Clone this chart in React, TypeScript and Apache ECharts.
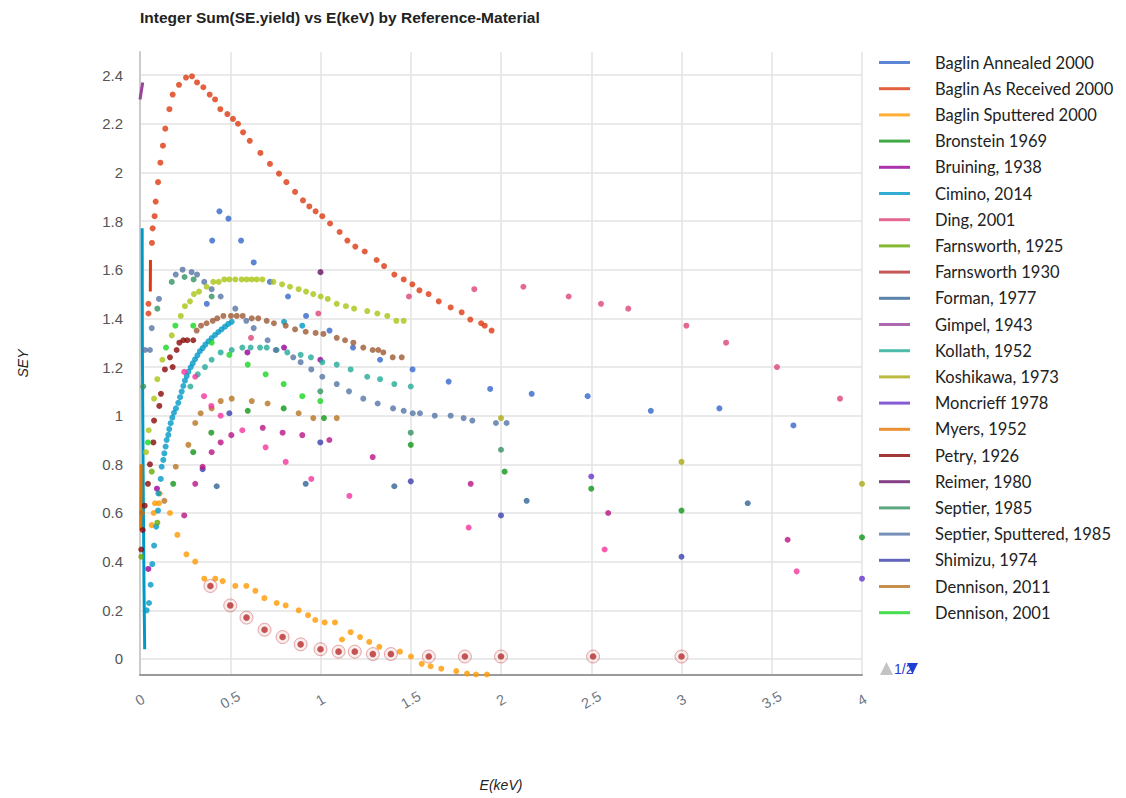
import { useEffect, useRef } from "react";
import * as echarts from "echarts";

type Pt = [number, number];

// E (keV), SEY pairs per reference
const baglinAnnealed: Pt[] = [
  [0.37, 1.46], [0.4, 1.72], [0.44, 1.84], [0.49, 1.81], [0.56, 1.72], [0.63, 1.63],
  [0.72, 1.55], [0.82, 1.49], [0.92, 1.41], [1.05, 1.35], [1.18, 1.28], [1.33, 1.23],
  [1.51, 1.19], [1.71, 1.14], [1.94, 1.11], [2.17, 1.09], [2.48, 1.08], [2.83, 1.02],
  [3.21, 1.03], [3.62, 0.96],
];
const baglinAsReceived: Pt[] = [
  [0.047, 1.42], [0.047, 1.46], [0.066, 1.71], [0.07, 1.77], [0.081, 1.82], [0.087, 1.88],
  [0.1, 1.96], [0.113, 2.04], [0.127, 2.11], [0.14, 2.18], [0.163, 2.26], [0.181, 2.32],
  [0.216, 2.36], [0.255, 2.39], [0.288, 2.395], [0.316, 2.37], [0.351, 2.35], [0.386, 2.32],
  [0.416, 2.3], [0.445, 2.26], [0.484, 2.24], [0.515, 2.22], [0.543, 2.2], [0.571, 2.165],
  [0.608, 2.13], [0.667, 2.08], [0.72, 2.035], [0.77, 1.995], [0.811, 1.96], [0.859, 1.92],
  [0.903, 1.885], [0.938, 1.86], [0.973, 1.84], [1.01, 1.82], [1.053, 1.79], [1.106, 1.755],
  [1.149, 1.72], [1.193, 1.695], [1.245, 1.675], [1.311, 1.64], [1.352, 1.615], [1.409, 1.58],
  [1.461, 1.56], [1.509, 1.54], [1.548, 1.515], [1.599, 1.5], [1.655, 1.47], [1.721, 1.445],
  [1.782, 1.425], [1.83, 1.395], [1.89, 1.38], [1.91, 1.37], [1.948, 1.35],
];
const baglinAsReceivedLow: Pt[] = [[0.057, 1.51], [0.058, 1.64]];
const baglinSputtered: Pt[] = [
  [0.065, 0.55], [0.076, 0.6], [0.083, 0.64], [0.105, 0.64], [0.109, 0.68], [0.166, 0.6],
  [0.207, 0.51], [0.257, 0.43], [0.306, 0.4], [0.356, 0.33], [0.417, 0.33], [0.458, 0.32],
  [0.528, 0.3], [0.589, 0.3], [0.639, 0.28], [0.689, 0.25], [0.757, 0.23], [0.807, 0.22],
  [0.879, 0.2], [0.931, 0.18], [0.971, 0.16], [1.023, 0.15], [1.08, 0.15], [1.119, 0.08],
  [1.167, 0.11], [1.219, 0.09], [1.27, 0.07], [1.326, 0.05], [1.44, 0.03], [1.501, 0.01],
  [1.561, -0.02], [1.61, -0.03], [1.669, -0.04], [1.752, -0.05], [1.812, -0.06],
  [1.861, -0.064], [1.922, -0.064],
];
const bronstein: Pt[] = [
  [0.184, 0.72], [0.295, 0.85], [0.395, 0.93], [0.597, 1.02], [0.796, 1.03], [1.019, 0.99],
  [1.5, 0.88], [2.02, 0.77], [2.5, 0.7], [3.0, 0.61], [4.0, 0.5],
];
const bruining: Pt[] = [[0.046, 0.37], [0.094, 0.7], [0.595, 1.26], [0.798, 1.28], [0.999, 1.23]];
const cimino: Pt[] = [
  [0.037, 0.2], [0.05, 0.23], [0.059, 0.305], [0.068, 0.39], [0.078, 0.466], [0.09, 0.544],
  [0.1, 0.61], [0.102, 0.68], [0.115, 0.74], [0.12, 0.79], [0.129, 0.818], [0.135, 0.845],
  [0.142, 0.873], [0.148, 0.9], [0.157, 0.921], [0.162, 0.945], [0.17, 0.969], [0.179, 0.992],
  [0.188, 1.012], [0.199, 1.03], [0.212, 1.053], [0.222, 1.076], [0.231, 1.099], [0.24, 1.122],
  [0.249, 1.144], [0.259, 1.163], [0.268, 1.181], [0.281, 1.199], [0.292, 1.215], [0.305, 1.232],
  [0.318, 1.248], [0.332, 1.265], [0.347, 1.278], [0.362, 1.292], [0.379, 1.306], [0.397, 1.319],
  [0.416, 1.332], [0.434, 1.344], [0.452, 1.355], [0.471, 1.366], [0.489, 1.377], [0.508, 1.386],
  [0.798, 1.386], [0.899, 1.37],
];
const ciminoLow: Pt[] = [[0.026, 0.04], [0.022, 0.3], [0.017, 0.8], [0.013, 1.3], [0.012, 1.77]];
const ding: Pt[] = [
  [0.615, 1.32], [0.988, 1.42], [1.49, 1.49], [1.852, 1.52], [2.124, 1.53], [2.375, 1.49],
  [2.554, 1.46], [2.705, 1.44], [3.027, 1.37], [3.247, 1.3], [3.529, 1.2], [3.878, 1.07],
];
const farnsworth1925: Pt[] = [[0.007, 0.42], [0.065, 0.77], [0.096, 0.56]];
const farnsworth1930: Pt[] = [
  [0.39, 0.3], [0.5, 0.22], [0.59, 0.17], [0.69, 0.12], [0.79, 0.09], [0.89, 0.06],
  [1.0, 0.04], [1.1, 0.03], [1.19, 0.03], [1.29, 0.02], [1.39, 0.02], [1.6, 0.01],
  [1.8, 0.01], [2.0, 0.01], [2.51, 0.01], [3.0, 0.01],
];
const forman: Pt[] = [[0.425, 0.71], [0.918, 0.72], [1.409, 0.71], [2.142, 0.65], [3.367, 0.64]];
const gimpelLow: Pt[] = [[0.0, 2.3], [0.015, 2.37]];
const kollath: Pt[] = [
  [0.279, 1.12], [0.32, 1.17], [0.36, 1.2], [0.397, 1.23], [0.447, 1.26], [0.508, 1.27],
  [0.567, 1.28], [0.613, 1.28], [0.665, 1.28], [0.702, 1.28], [0.757, 1.27], [0.816, 1.26],
  [0.89, 1.25], [0.947, 1.24], [1.01, 1.22], [1.09, 1.21], [1.167, 1.19], [1.259, 1.16],
  [1.33, 1.15], [1.409, 1.13], [1.5, 1.12],
];
const koshikawa: Pt[] = [[2.0, 0.99], [3.0, 0.81], [4.0, 0.72]];
const moncrieff: Pt[] = [[2.5, 0.75], [4.0, 0.33]];
const myersLow: Pt[] = [[0.004, 0.53], [0.006, 0.8]];
const petry: Pt[] = [
  [0.007, 0.45], [0.015, 0.53], [0.026, 0.63], [0.044, 0.72], [0.055, 0.8], [0.074, 0.89],
  [0.078, 0.98], [0.107, 1.04], [0.116, 1.09], [0.138, 1.19], [0.166, 1.24], [0.181, 1.2],
  [0.203, 1.27], [0.218, 1.3], [0.24, 1.31], [0.262, 1.31], [0.295, 1.31],
];
const reimer: Pt[] = [[1.0, 1.59]];
const septier: Pt[] = [
  [0.018, 1.12], [0.096, 1.44], [0.176, 1.55], [0.247, 1.57], [0.297, 1.56], [0.397, 1.49],
  [0.999, 1.1], [1.5, 0.93], [2.0, 0.86],
];
const septierSputtered: Pt[] = [
  [0.028, 1.27], [0.055, 1.27], [0.065, 1.36], [0.105, 1.48], [0.198, 1.58], [0.236, 1.6],
  [0.286, 1.59], [0.316, 1.58], [0.356, 1.55], [0.397, 1.52], [0.447, 1.49], [0.528, 1.44],
  [0.589, 1.39], [0.63, 1.36], [0.707, 1.31], [0.752, 1.27], [0.849, 1.24], [0.89, 1.22],
  [0.949, 1.19], [1.01, 1.16], [1.09, 1.13], [1.158, 1.1], [1.237, 1.07], [1.317, 1.05],
  [1.402, 1.03], [1.461, 1.02], [1.511, 1.01], [1.551, 1.01], [1.633, 1.0], [1.721, 1.0],
  [1.793, 0.99], [1.841, 0.98], [1.972, 0.97], [2.031, 0.97],
];
const shimizu: Pt[] = [[0.347, 0.78], [0.495, 1.01], [0.999, 0.89], [1.5, 0.73], [2.0, 0.59], [3.0, 0.42]];
const dennison2011: Pt[] = [
  [0.011, 0.6], [0.135, 0.65], [0.198, 0.79], [0.268, 0.88], [0.306, 0.97], [0.336, 1.01],
  [0.397, 1.03], [0.447, 1.06], [0.508, 1.07], [0.619, 1.06], [0.707, 1.05], [0.879, 1.01],
  [0.96, 0.99], [1.09, 0.99],
];
const dennison2001: Pt[] = [
  [0.044, 0.89], [0.144, 1.28], [0.196, 1.37], [0.295, 1.37], [0.397, 1.3], [0.495, 1.25],
  [0.597, 1.21], [0.696, 1.17], [0.796, 1.13], [0.899, 1.08], [0.999, 1.06],
];
const reference23: Pt[] = [
  [0.245, 0.59], [0.306, 0.72], [0.347, 0.79], [0.397, 0.85], [0.447, 0.89], [0.506, 0.92],
  [0.68, 0.95], [0.79, 0.93], [0.899, 0.92], [1.049, 0.9], [1.289, 0.83], [1.832, 0.72],
  [2.594, 0.6], [3.588, 0.49],
];
const reference24: Pt[] = [
  [0.245, 1.18], [0.306, 1.16], [0.355, 1.08], [0.395, 1.04], [0.447, 1.0], [0.567, 0.94],
  [0.696, 0.87], [0.807, 0.81], [0.949, 0.74], [1.16, 0.67], [1.821, 0.54], [2.574, 0.45],
  [3.638, 0.36],
];
const reference25: Pt[] = [
  [0.314, 1.35], [0.338, 1.37], [0.369, 1.38], [0.403, 1.39], [0.428, 1.4], [0.462, 1.41],
  [0.504, 1.41], [0.536, 1.41], [0.569, 1.41], [0.619, 1.4], [0.655, 1.4], [0.702, 1.39],
  [0.742, 1.38], [0.807, 1.37], [0.859, 1.355], [0.918, 1.345], [0.973, 1.34], [1.016, 1.336],
  [1.09, 1.32], [1.136, 1.31], [1.182, 1.3], [1.237, 1.28], [1.289, 1.27], [1.32, 1.27],
  [1.348, 1.26], [1.4, 1.24], [1.45, 1.24],
];
const reference26: Pt[] = [
  [0.033, 0.85], [0.048, 0.94], [0.078, 1.07], [0.096, 1.15], [0.124, 1.23], [0.176, 1.33],
  [0.226, 1.41], [0.249, 1.45], [0.277, 1.47], [0.299, 1.5], [0.327, 1.51], [0.369, 1.53],
  [0.406, 1.55], [0.436, 1.55], [0.467, 1.56], [0.495, 1.56], [0.528, 1.56], [0.563, 1.56],
  [0.591, 1.56], [0.619, 1.56], [0.647, 1.56], [0.678, 1.56], [0.739, 1.55], [0.787, 1.54],
  [0.831, 1.53], [0.879, 1.52], [0.92, 1.51], [0.96, 1.5], [1.001, 1.49], [1.04, 1.48],
  [1.09, 1.46], [1.141, 1.45], [1.186, 1.44], [1.259, 1.43], [1.315, 1.42], [1.37, 1.41],
  [1.42, 1.39], [1.461, 1.39],
];

const xTicks = [0, 0.5, 1, 1.5, 2, 2.5, 3, 3.5, 4];
const yTicks = [0, 0.2, 0.4, 0.6, 0.8, 1, 1.2, 1.4, 1.6, 1.8, 2, 2.2, 2.4];
const legendPageText = "1/2";

interface Ref {
  name: string;
  color: string;
  points: Pt[];
  trace?: Pt[];
  ringed?: boolean;
  firstPage: boolean;
}

const REFS: Ref[] = [
  { name: "Baglin Annealed 2000", color: "#3366cc", points: baglinAnnealed, firstPage: true },
  { name: "Baglin As Received 2000", color: "#dc3912", points: baglinAsReceived, trace: baglinAsReceivedLow, firstPage: true },
  { name: "Baglin Sputtered 2000", color: "#ff9900", points: baglinSputtered, firstPage: true },
  { name: "Bronstein 1969", color: "#109618", points: bronstein, firstPage: true },
  { name: "Bruining, 1938", color: "#990099", points: bruining, firstPage: true },
  { name: "Cimino, 2014", color: "#0099c6", points: cimino, trace: ciminoLow, firstPage: true },
  { name: "Ding, 2001", color: "#dd4477", points: ding, firstPage: true },
  { name: "Farnsworth, 1925", color: "#66aa00", points: farnsworth1925, firstPage: true },
  { name: "Farnsworth 1930", color: "#b82e2e", points: farnsworth1930, ringed: true, firstPage: true },
  { name: "Forman, 1977", color: "#316395", points: forman, firstPage: true },
  { name: "Gimpel, 1943", color: "#994499", points: [], trace: gimpelLow, firstPage: true },
  { name: "Kollath, 1952", color: "#22aa99", points: kollath, firstPage: true },
  { name: "Koshikawa, 1973", color: "#aaaa11", points: koshikawa, firstPage: true },
  { name: "Moncrieff 1978", color: "#6633cc", points: moncrieff, firstPage: true },
  { name: "Myers, 1952", color: "#e67300", points: [], trace: myersLow, firstPage: true },
  { name: "Petry, 1926", color: "#8b0707", points: petry, firstPage: true },
  { name: "Reimer, 1980", color: "#651067", points: reimer, firstPage: true },
  { name: "Septier, 1985", color: "#329262", points: septier, firstPage: true },
  { name: "Septier, Sputtered, 1985", color: "#5574a6", points: septierSputtered, firstPage: true },
  { name: "Shimizu, 1974", color: "#3b3eac", points: shimizu, firstPage: true },
  { name: "Dennison, 2011", color: "#b77322", points: dennison2011, firstPage: true },
  { name: "Dennison, 2001", color: "#16d620", points: dennison2001, firstPage: true },
  { name: "Reference 23", color: "#b91383", points: reference23, firstPage: false },
  { name: "Reference 24", color: "#f4359e", points: reference24, firstPage: false },
  { name: "Reference 25", color: "#9c5935", points: reference25, firstPage: false },
  { name: "Reference 26", color: "#a9c413", points: reference26, firstPage: false },
];

function buildSeries(): any[] {
  const out: any[] = [];
  REFS.forEach((r) => {
    if (r.ringed) {
      // filled dot first so the legend picks up its colour, halo ring below it
      out.push({
        type: "scatter",
        name: r.name,
        data: r.points,
        symbolSize: 8,
        itemStyle: { color: r.color, borderColor: "#ffffff", borderWidth: 1.5 },
        z: 4,
      });
      out.push({
        type: "scatter",
        name: r.name,
        data: r.points,
        symbolSize: 13,
        itemStyle: { color: "rgba(184,46,46,0.14)", borderColor: "rgba(200,70,70,0.55)", borderWidth: 1 },
        z: 3,
      });
    } else {
      out.push({
        type: "scatter",
        name: r.name,
        data: r.points,
        symbolSize: 6,
        itemStyle: { color: r.color },
        z: 2,
      });
    }
    if (r.trace) {
      out.push({
        type: "line",
        name: r.name,
        data: r.trace,
        symbol: "none",
        showSymbol: false,
        lineStyle: { color: r.color, width: 3 },
        itemStyle: { color: r.color },
        z: 2,
      });
    }
  });
  return out;
}

export default function App() {
  const ref = useRef<HTMLDivElement>(null);

  useEffect(() => {
    if (!ref.current) return;
    const chart = echarts.init(ref.current, null, { renderer: "svg" });
    chart.setOption({
      animation: false,
      backgroundColor: "#ffffff",
      textStyle: { fontFamily: "Liberation Sans, Arial, sans-serif" },
      title: {
        text: "Integer Sum(SE.yield) vs E(keV) by Reference-Material",
        left: 140,
        top: 9,
        padding: 0,
        textStyle: { fontSize: 15.5, fontWeight: "bold", color: "#222222", fontFamily: "Liberation Sans, Arial, sans-serif" },
      },
      grid: { left: 140, right: 264, top: 52, bottom: 123, containLabel: false, outerBoundsMode: "none" },
      xAxis: [
        {
          type: "value",
          min: 0,
          max: 4,
          interval: 0.5,
          name: "E(keV)",
          nameLocation: "middle",
          nameGap: 103,
          nameTextStyle: { fontStyle: "italic", fontSize: 14, color: "#222222" },
          axisLine: { show: false },
          axisTick: { show: false },
          splitLine: { show: true, lineStyle: { color: "#e3e3e3", width: 1.5 } },
          axisLabel: {
            rotate: 30,
            align: "center",
            verticalAlign: "middle",
            margin: 25,
            fontSize: 14.5,
            color: "#6f7784",
            customValues: xTicks,
            formatter: (v: number) => String(v),
          },
        },
        {
          type: "value",
          min: 0,
          max: 4,
          position: "bottom",
          axisLine: { show: true, onZero: true, lineStyle: { color: "#9a9a9a", width: 2 } },
          axisTick: { show: false },
          axisLabel: { show: false },
          splitLine: { show: false },
        },
      ],
      yAxis: {
        type: "value",
        min: -0.066,
        max: 2.495,
        name: "SEY",
        nameLocation: "middle",
        nameGap: 110,
        nameRotate: 90,
        nameTextStyle: { fontStyle: "italic", fontSize: 14, color: "#222222" },
        axisLine: { show: true, lineStyle: { color: "#cccccc", width: 2 } },
        axisTick: { show: false, customValues: yTicks },
        splitLine: { show: true, lineStyle: { color: "#e3e3e3", width: 1.5 } },
        axisLabel: {
          customValues: yTicks,
          margin: 17,
          fontSize: 15,
          color: "#555555",
          formatter: (v: number) => String(Math.round(v * 10) / 10),
        },
      },
      legend: {
        type: "plain",
        orient: "vertical",
        left: 874,
        top: 49,
        icon: "rect",
        itemWidth: 31,
        itemHeight: 3,
        itemGap: 9.2,
        itemStyle: { borderWidth: 0 },
        textStyle: { fontFamily: "Lato, sans-serif", fontSize: 16.5, color: "#222222", padding: [0, 0, 0, 20] },
        data: REFS.filter((r) => r.firstPage).map((r) => r.name),
      },
      graphic: [
        {
          type: "polygon",
          left: 880,
          top: 662,
          shape: { points: [[6.5, 0], [13, 13], [0, 13]] },
          style: { fill: "#c4c4c4" },
        },
        {
          type: "text",
          left: 894,
          top: 662,
          style: { text: legendPageText, fill: "#2a3bd0", fontSize: 14, fontFamily: "Liberation Sans, Arial, sans-serif" },
        },
        {
          type: "polygon",
          left: 907,
          top: 663,
          shape: { points: [[0, 0], [11, 0], [5.5, 11]] },
          style: { fill: "#1f3fd4" },
        },
      ],
      series: buildSeries(),
    });
    return () => chart.dispose();
  }, []);

  return <div ref={ref} style={{ position: "absolute", left: 0, top: 0, width: 1126, height: 798 }} />;
}
